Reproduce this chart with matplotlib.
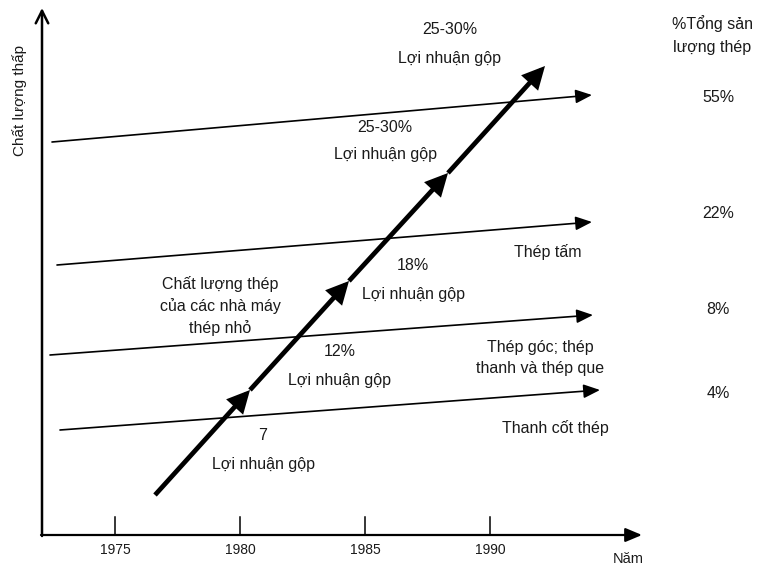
import matplotlib
matplotlib.use("Agg")
import matplotlib.pyplot as plt

plt.rcParams['font.family'] = ['Liberation Sans', 'DejaVu Sans']

# ---- data ----
tick_years = [1975, 1980, 1985, 1990]
tick_labels = ["1975", "1980", "1985", "1990"]

# thin product arrows: start year, start quality, end year, end quality
prod_x0 = [1972.48, 1972.68, 1972.40, 1972.80]
prod_y0 = [393, 270, 180, 105]
prod_x1 = [1994.08, 1994.08, 1994.12, 1994.40]
prod_y1 = [440, 313, 220, 145]
prod_share = ["55%", "22%", "8%", "4%"]

# thick mini-mill quality arrow breakpoints
mill_x = [1976.6, 1980.40, 1984.36, 1988.32, 1992.2]
mill_y = [40, 145, 254, 362, 469]
margin_top = ["7", "12%", "18%", "25-30%", "25-30%"]

# ---- layout helpers (pixel -> data) ----
X0 = 1970.4
PXY = 25.0
def px(x):
    return X0 + x / PXY
def py(y):
    return 535 - y

fig = plt.figure(figsize=(7.67, 5.67), dpi=100)
ax = fig.add_axes([0, 0, 1, 1])
ax.set_xlim(px(0), px(767))
ax.set_ylim(py(567), py(0))
ax.axis('off')

txt = '#1a1a1a'

# axes
ax.annotate("", xy=(px(642), 0), xytext=(px(41), 0),
            arrowprops=dict(arrowstyle='-|>,head_length=1.0,head_width=0.42', lw=1.6, color='black',
                            shrinkA=0, shrinkB=0, mutation_scale=10))
ax.annotate("", xy=(px(42), py(8)), xytext=(px(42), py(536)),
            arrowprops=dict(arrowstyle='->,head_length=0.9,head_width=0.45', lw=1.8, color='black',
                            shrinkA=0, shrinkB=0, mutation_scale=10))
for yr, lab in zip(tick_years, tick_labels):
    ax.plot([yr, yr], [0, 18], color='black', lw=1.1)
    ax.text(yr, py(550), lab, ha='center', va='center', fontsize=10, color=txt)
ax.text(px(628), py(559), "Năm", ha='center', va='center', fontsize=10.5, color=txt)
ax.text(px(20), py(100), "Chất lượng thấp", rotation=90, ha='center', va='center', fontsize=11,
        color=txt)

# thin arrows
for x0, y0, x1, y1 in zip(prod_x0, prod_y0, prod_x1, prod_y1):
    ax.annotate("", xy=(x1, y1), xytext=(x0, y0),
                arrowprops=dict(arrowstyle='-|>,head_length=1.0,head_width=0.42', lw=1.2,
                                color='black', shrinkA=0, shrinkB=0, mutation_scale=10))

# thick arrow segments
for i in range(len(mill_x) - 1):
    ax.annotate("", xy=(mill_x[i + 1], mill_y[i + 1]), xytext=(mill_x[i], mill_y[i]),
                arrowprops=dict(arrowstyle='-|>,head_length=1.1,head_width=0.55', lw=3.4,
                                color='black', shrinkA=0, shrinkB=0, mutation_scale=10,
                                joinstyle='miter', capstyle='butt'))

fs = 11.5
# margin labels
margin_pos = [(263, 436), (340, 352), (413, 266), (385, 127), (450, 30)]
for (x, y), t in zip(margin_pos, margin_top):
    ax.text(px(x), py(y), t, ha='center', va='center', fontsize=fs, color=txt)
    ax.text(px(x), py(y + 28), "Lợi nhuận gộp", ha='center', va='center', fontsize=fs, color=txt)

ax.text(px(220), py(306), "Chất lượng thép\ncủa các nhà máy\nthép nhỏ", ha='center', va='center',
        fontsize=fs, linespacing=1.5, color=txt)
ax.text(px(548), py(252), "Thép tấm", ha='center', va='center', fontsize=fs, color=txt)
ax.text(px(540), py(358), "Thép góc; thép\nthanh và thép que", ha='center', va='center',
        fontsize=fs, linespacing=1.5, color=txt)
ax.text(px(555), py(428), "Thanh cốt thép", ha='center', va='center', fontsize=fs, color=txt)

ax.text(px(712), py(35), "%Tổng sản\nlượng thép", ha='center', va='center', fontsize=fs,
        linespacing=1.65, color=txt)
share_y = [97, 213, 310, 393]
for s, y in zip(prod_share, share_y):
    ax.text(px(718), py(y), s, ha='center', va='center', fontsize=fs, color=txt)

fig.savefig("out.png", dpi=100, facecolor='white')
